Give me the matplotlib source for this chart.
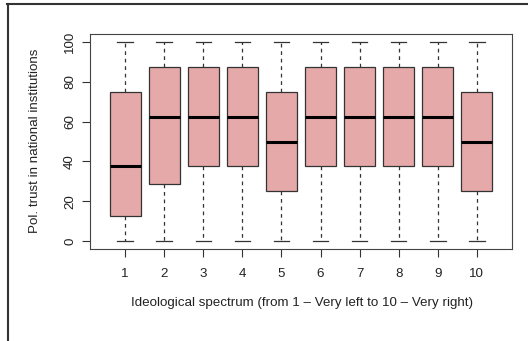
import matplotlib
matplotlib.use("Agg")
import matplotlib.pyplot as plt
from matplotlib.lines import Line2D

plt.rcParams['font.family'] = ['Liberation Sans', 'DejaVu Sans']

categories = ["1", "2", "3", "4", "5", "6", "7", "8", "9", "10"]
whislo = [0, 0, 0, 0, 0, 0, 0, 0, 0, 0]
q1 = [12.5, 28.6, 37.5, 37.5, 25, 37.5, 37.5, 37.5, 37.5, 25]
med = [37.5, 62.5, 62.5, 62.5, 50, 62.5, 62.5, 62.5, 62.5, 50]
q3 = [75, 87.5, 87.5, 87.5, 75, 87.5, 87.5, 87.5, 87.5, 75]
whishi = [100, 100, 100, 100, 100, 100, 100, 100, 100, 100]
yticks = [0, 20, 40, 60, 80, 100]

FS = 9.6
W, H = 528, 341
fig = plt.figure(figsize=(W / 100, H / 100), dpi=100)
ax = fig.add_axes([90 / W, 1 - 249 / H, (512 - 90) / W, (249 - 34) / H])

stats = []
for i in range(len(categories)):
    stats.append(dict(whislo=whislo[i], q1=q1[i], med=med[i], q3=q3[i],
                      whishi=whishi[i], fliers=[], label=categories[i]))

positions = list(range(1, len(categories) + 1))
ax.bxp(stats, positions=positions, widths=0.8, patch_artist=True,
       boxprops=dict(facecolor='#E6A9A9', edgecolor='#333333', linewidth=0.9),
       medianprops=dict(color='black', linewidth=2.2, solid_capstyle='butt'),
       whiskerprops=dict(color='#333333', linewidth=0.9, linestyle=(0, (3, 3))),
       capprops=dict(color='#333333', linewidth=0.9),
       capwidths=0.4)

ax.set_xlim(0.1, 10.9)
ax.set_ylim(-4, 104)
ax.set_xticks(positions)
ax.set_xticklabels(categories, fontsize=FS, color='#222222')
ax.set_yticks(yticks)
ax.set_yticklabels([str(v) for v in yticks], fontsize=FS, color='#222222',
                   rotation=90, va='center')
ax.tick_params(axis='both', length=5.5, width=0.8, color='#333333')
ax.tick_params(axis='x', pad=8)
ax.tick_params(axis='y', pad=4.5)
for s in ax.spines.values():
    s.set_color('#444444')
    s.set_linewidth(0.8)

fig.text(302 / W, 1 - 303 / H,
         "Ideological spectrum (from 1 \u2013 Very left to 10 \u2013 Very right)",
         ha='center', va='center', fontsize=FS, color='#222222')
fig.text(35 / W, 1 - 141 / H, "Pol. trust in national institutions",
         ha='center', va='center', rotation=90, fontsize=FS, color='#222222')

# figure border (top and left)
fig.add_artist(Line2D([7 / W, 1.0], [1 - 3.5 / H, 1 - 3.5 / H],
                      transform=fig.transFigure, color='#333333', linewidth=1.5))
fig.add_artist(Line2D([7.5 / W, 7.5 / W], [0, 1 - 3.5 / H],
                      transform=fig.transFigure, color='#333333', linewidth=1.5))

fig.savefig("out.png", dpi=100)
